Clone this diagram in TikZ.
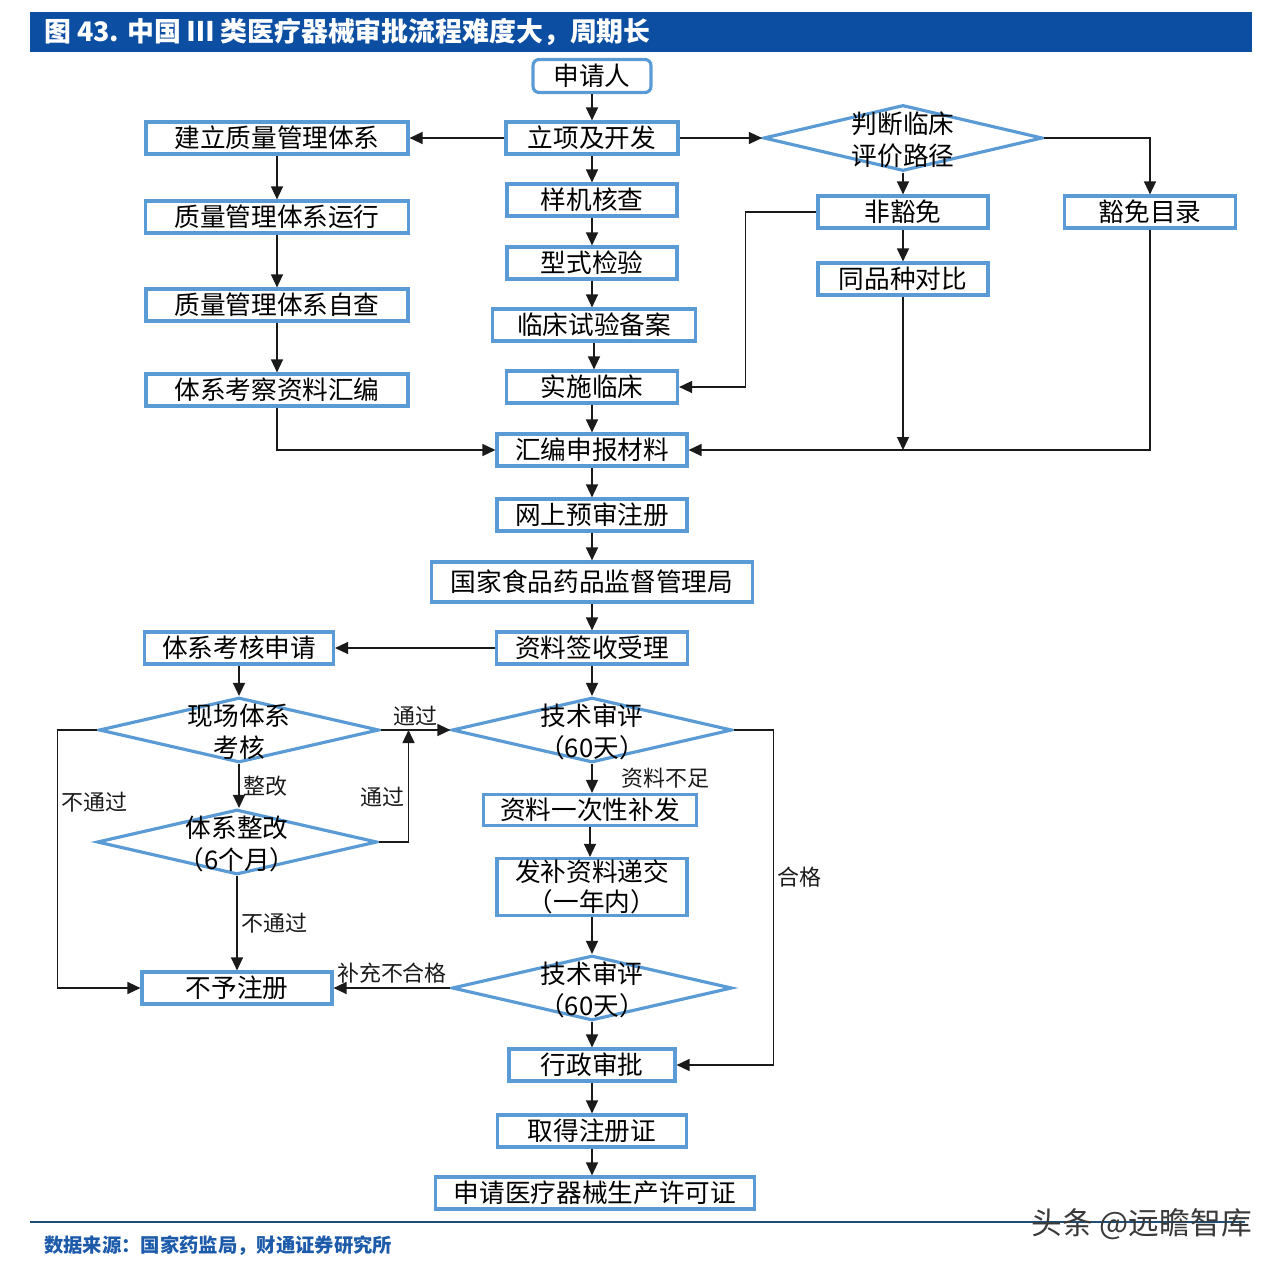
\documentclass[tikz,border=0pt]{standalone}
\usepackage{fontspec}
\usetikzlibrary{arrows.meta,positioning,calc,shapes.geometric}
\newfontfamily\cjk{Noto Sans CJK SC}
\definecolor{cfBar}{HTML}{0B4EA2}
\definecolor{cfEdge}{HTML}{5B9BD5}
\definecolor{cfInk}{HTML}{1A1A1A}
\definecolor{cfRule}{HTML}{1F4E79}
\definecolor{cfSrc}{HTML}{1D5BAA}
\definecolor{cfMark}{HTML}{3A3A3A}
\newcommand{\dtext}[2]{\smash{\makebox[0pt]{\raisebox{-2.3mm}{\begin{tabular}{@{}c@{}}#1\\#2\end{tabular}}}}}
\tikzset{
  box/.style      ={draw=cfEdge,line width=1.8pt,fill=white,minimum height=6.4mm,
                    inner sep=0pt,font=\fontsize{14.6}{17.4}\cjk},
  startbox/.style ={box,rounded corners=1.2mm,minimum height=6.6mm},
  dia/.style      ={diamond,draw=cfEdge,line width=1.8pt,fill=white,inner sep=0pt,
                    minimum width=5.6cm,minimum height=1.3cm,font=\fontsize{14.6}{17.8}\cjk},
  flow/.style     ={-{Triangle[length=2.6mm,width=2.4mm]},cfInk,line width=0.8pt},
  lbl/.style      ={font=\fontsize{12.5}{15}\cjk,text=cfInk,inner sep=2pt},
}
\begin{document}
\begin{tikzpicture}[x=0.02cm,y=-0.02cm]
\useasboundingbox (0,0) rectangle (1284,1270);
% ── title ──────────────────────────────────────────────────────────────────
\fill[cfBar] (30,12) rectangle (1252,52);
\node[anchor=west,text=white,font=\fontsize{15.3}{18}\cjk\bfseries] (title) at (38,32)
  {图 43. 中国 Ⅲ 类医疗器械审批流程难度大，周期长};

% ── main column ────────────────────────────────────────────────────────────
\node[startbox,minimum width=2.36cm] (sqr) at (592,76) {申请人};
\node[box,minimum width=3.44cm] (lx)   at (592,138) {立项及开发};
\node[box,minimum width=3.40cm] (yj)   at (592,200) {样机核查};
\node[box,minimum width=3.40cm] (xs)   at (592,263) {型式检验};
\node[box,minimum width=4.06cm] (lcba) at (594,325) {临床试验备案};
\node[box,minimum width=3.42cm] (sslc) at (592,387) {实施临床};
\node[box,minimum width=3.80cm] (hb)   at (592,450) {汇编申报材料};
\node[box,minimum width=3.80cm] (ws)   at (592,515) {网上预审注册};
\node[box,minimum width=6.42cm,minimum height=0.80cm] (gj) at (592,582) {国家食品药品监督管理局};
\node[box,minimum width=3.82cm] (qs)   at (592,648) {资料签收受理};
\node[dia] (js1) at (592,730) {\dtext{技术审评}{（60天）}};
\node[box,minimum width=4.26cm,minimum height=0.62cm] (bf) at (590,810) {资料一次性补发};
\node[box,minimum width=3.80cm,minimum height=1.14cm,align=center] (fb) at (592,887)
  {发补资料递交\\（一年内）};
\node[dia] (js2) at (592,988) {\dtext{技术审评}{（60天）}};
\node[box,minimum width=3.32cm] (xz)   at (592,1065) {行政审批};
\node[box,minimum width=3.78cm] (qz)   at (592,1131) {取得注册证};
\node[box,minimum width=6.38cm] (sq)   at (595,1193) {申请医疗器械生产许可证};

\foreach \a/\b in {sqr/lx,lx/yj,yj/xs,xs/lcba,lcba/sslc,sslc/hb,hb/ws,ws/gj,gj/qs,qs/js1,
                   bf/fb,fb/js2,js2/xz,xz/qz,qz/sq}
  \draw[flow] (\a.south) -- (\a.south |- \b.north);
\draw[flow] (js1.south) -- node[lbl,right=5mm]{资料不足} (js1.south |- bf.north);

% ── quality system ─────────────────────────────────────────────────────────
\node[box,minimum width=5.24cm] (jl)  at (277,138) {建立质量管理体系};
\node[box,minimum width=5.26cm] (yx)  at (277,217) {质量管理体系运行};
\node[box,minimum width=5.24cm] (zc)  at (277,305) {质量管理体系自查};
\node[box,minimum width=5.24cm] (hbz) at (277,390) {体系考察资料汇编};
\foreach \a/\b in {jl/yx,yx/zc,zc/hbz}
  \draw[flow] (\a) -- (\b);
\draw[flow] (lx) -- (jl);
\draw[flow] (hbz.south) |- (hb.west);

% ── clinical evaluation path ───────────────────────────────────────────────
\node[dia,minimum width=5.58cm,minimum height=1.32cm] (pd) at (903,138) {\dtext{判断临床}{评价路径}};
\node[box,minimum width=3.40cm] (fhm) at (903,212) {非豁免};
\node[box,minimum width=3.42cm] (hm)  at (1150,212) {豁免目录};
\node[box,minimum width=3.40cm] (tpz) at (903,279) {同品种对比};
\draw[flow] (lx) -- (pd);
\draw[flow] (pd.east) -| (hm.north);
\draw[flow] (pd) -- (fhm);
\draw[flow] (fhm) -- (tpz);
\draw[flow] (fhm.west) -- ++(-71,0) |- (sslc.east);
\draw[flow] (tpz.south) -- (tpz.south |- hb.east);
\draw[flow] (hm.south) |- (hb.east);

% ── system audit ───────────────────────────────────────────────────────────
\node[box,minimum width=3.78cm] (tk) at (239,648) {体系考核申请};
\node[dia] (xc) at (239,730) {\dtext{现场体系}{考核}};
\node[dia] (tz) at (237,842) {\dtext{体系整改}{（6个月）}};
\node[box,minimum width=3.80cm] (bz) at (237,988) {不予注册};
\coordinate (passup) at ($(xc.east)!0.4!(js1.west)$);

\draw[flow] (qs) -- (tk);
\draw[flow] (tk) -- (xc);
\draw[flow] (xc) -- node[lbl,above]{通过} (js1);
\draw[flow] (xc.south) -- node[lbl,right]{整改} (xc.south |- tz.north);
\draw[flow] (tz.east) -| node[lbl,left,pos=0.7]{通过} (passup);
\draw[flow] (tz) -- node[lbl,right]{不通过} (bz);
\draw[flow] (xc.west) -- ++(-40,0) |- node[lbl,right,pos=0.14]{不通过} (bz.west);
\draw[flow] (js2) -- node[lbl,above]{补充不合格} (bz);
\draw[flow] (js1.east) -- ++(40,0) |- node[lbl,right,pos=0.22]{合格} (xz.east);

% ── source ─────────────────────────────────────────────────────────────────
\draw[cfRule,line width=1.2pt] (30,1222) -- (1245,1222);
\node[anchor=west,text=cfSrc,font=\fontsize{11}{13}\cjk\bfseries] (src) at (38,1246)
  {数据来源：国家药监局，财通证券研究所};
\node[anchor=east,text=cfMark,font=\fontsize{17.5}{20}\cjk] (mark) at (1258,1224)
  {头条 @远瞻智库};
\end{tikzpicture}
\end{document}
